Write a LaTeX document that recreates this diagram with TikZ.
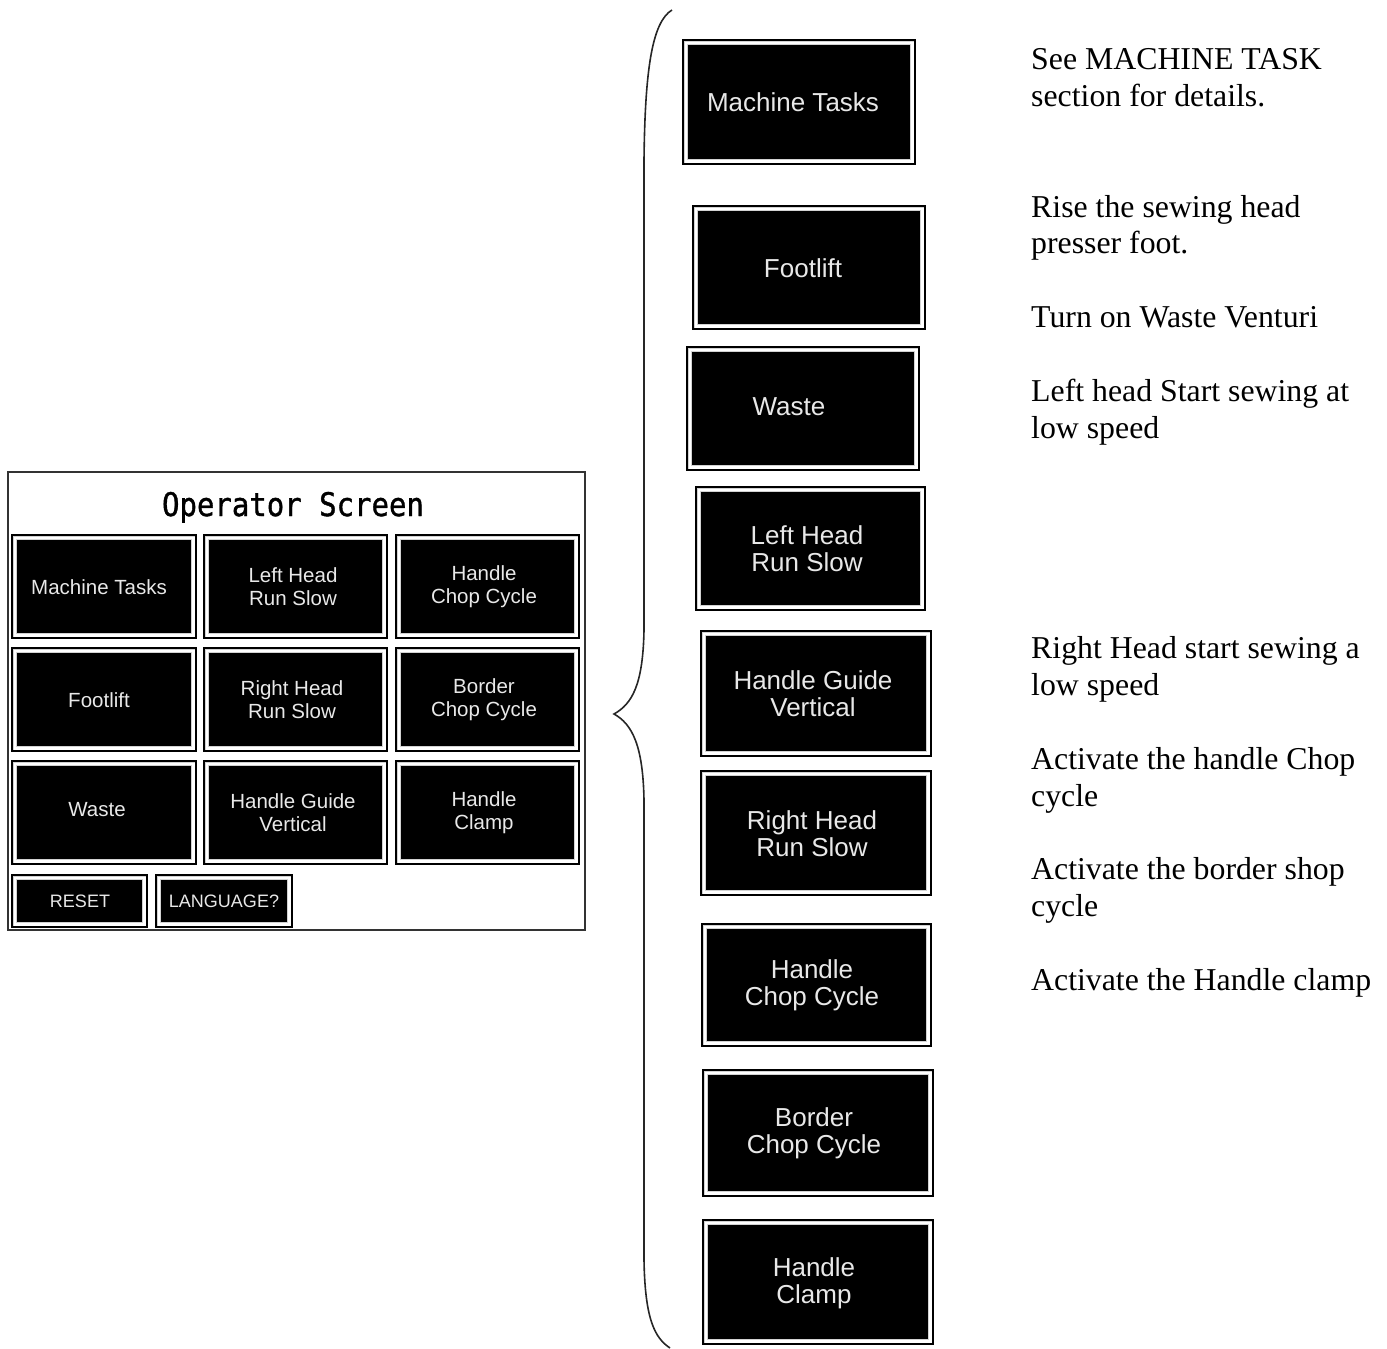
\documentclass[tikz,border=0pt]{standalone}
\usepackage{fontspec}
\setmainfont{Liberation Serif}
\newfontfamily\btnfont{Liberation Sans}
\newfontfamily\titlefont{DejaVu Sans Mono}[FakeBold=1.2]
\tikzset{
  btnbox/.style={draw=black, line width=1.6pt, fill=gray!35, inner sep=0pt, outer sep=0pt,
    path picture={
      \draw[white, line width=2.2pt] ([shift={(2.6pt,2.6pt)}]path picture bounding box.south west) rectangle ([shift={(-2.6pt,-2.6pt)}]path picture bounding box.north east);
      \fill[black] ([shift={(4.8pt,4.8pt)}]path picture bounding box.south west) rectangle ([shift={(-4.8pt,-4.8pt)}]path picture bounding box.north east);
    }},
  bigtxt/.style={font=\btnfont\fontsize{26}{27}\selectfont, text=gray!18, align=center, inner sep=0pt},
  smalltxt/.style={font=\btnfont\fontsize{20.5}{23}\selectfont, text=gray!18, align=center, inner sep=0pt},
  capstxt/.style={font=\btnfont\fontsize{18}{20}\selectfont, text=gray!18, align=center, inner sep=0pt},
  desc/.style={font=\fontsize{31.8}{37}\selectfont, anchor=base west, inner sep=0pt},
  frame/.style={draw=black!80, line width=1.3pt},
  brace/.style={draw=black!85, line width=1.6pt}
}
\newcommand{\btn}[9]{%
  \node[btnbox, minimum width={(#4-#2)*1pt}, minimum height={(#5-#3)*1pt}] (#1) at ({(#2+#4)/2},{(#3+#5)/2}) {};
  \node[#8] (#1t) at (#6,#7) {#9};%
}
\begin{document}
\begin{tikzpicture}[x=1pt,y=-1pt]
\useasboundingbox (0,0) rectangle (1387,1349);
% Operator screen
\node[frame, minimum width=577pt, minimum height=458pt, inner sep=0pt] (screen) at (296.5,701) {};
\node[font=\titlefont\fontsize{29}{30}\selectfont, anchor=base, inner sep=0pt, yscale=1.12] (title) at (293,516) {Operator Screen};
\btn{g11}{12}{535}{196}{638}{99}{587}{smalltxt}{Machine Tasks}
\btn{g12}{204}{535}{387}{638}{293}{587}{smalltxt}{Left Head\\Run Slow}
\btn{g13}{396}{535}{579}{638}{484}{587}{smalltxt}{Handle\\Chop Cycle}
\btn{g21}{12}{648}{196}{751}{99}{700}{smalltxt}{Footlift}
\btn{g22}{204}{648}{387}{751}{292}{700}{smalltxt}{Right Head\\Run Slow}
\btn{g23}{396}{648}{579}{751}{484}{700}{smalltxt}{Border\\Chop Cycle}
\btn{g31}{12}{761}{196}{864}{97}{810}{smalltxt}{Waste}
\btn{g32}{204}{761}{387}{864}{293}{813}{smalltxt}{Handle Guide\\Vertical}
\btn{g33}{396}{761}{579}{864}{484}{813}{smalltxt}{Handle\\Clamp}
\btn{reset}{12}{875}{147}{927}{80}{901}{capstxt}{RESET}
\btn{lang}{156}{875}{292}{927}{224}{901}{capstxt}{LANGUAGE?}
% Brace
\coordinate (btop) at (672,10);
\coordinate (btip) at (614,714);
\coordinate (bbot) at (670,1348);
\draw[brace] (btop) .. controls (652,22) and (645,70) .. (644,160) -- (644,630)
  .. controls (643,685) and (632,704) .. (btip)
  .. controls (632,724) and (643,745) .. (644,800) -- (644,1260)
  .. controls (645,1320) and (655,1338) .. (bbot);
% Right column buttons
\btn{r1}{683}{40}{915}{164}{793}{102}{bigtxt}{Machine Tasks}
\btn{r2}{693}{206}{925}{329}{803}{268}{bigtxt}{Footlift}
\btn{r3}{687}{347}{919}{470}{789}{407}{bigtxt}{Waste}
\btn{r4}{696}{487}{925}{610}{807}{549}{bigtxt}{Left Head\\Run Slow}
\btn{r5}{701}{631}{931}{756}{813}{694}{bigtxt}{Handle Guide\\Vertical}
\btn{r6}{701}{771}{931}{895}{812}{834}{bigtxt}{Right Head\\Run Slow}
\btn{r7}{702}{924}{931}{1046}{812}{985}{bigtxt}{Handle\\Chop Cycle}
\btn{r8}{703}{1070}{933}{1196}{814}{1133}{bigtxt}{Border\\Chop Cycle}
\btn{r9}{703}{1220}{933}{1344}{814}{1283}{bigtxt}{Handle\\Clamp}
% Descriptions
\node[desc] (d1a) at (1031,69) {See MACHINE TASK};
\node[desc] (d1b) at (1031,106) {section for details.};
\node[desc] (d2a) at (1031,217) {Rise the sewing head};
\node[desc] (d2b) at (1031,253) {presser foot.};
\node[desc] (d3) at (1031,327) {Turn on Waste Venturi};
\node[desc] (d4a) at (1031,401) {Left head Start sewing at};
\node[desc] (d4b) at (1031,438) {low speed};
\node[desc] (d5a) at (1031,658) {Right Head start sewing a};
\node[desc] (d5b) at (1031,695) {low speed};
\node[desc] (d6a) at (1031,769) {Activate the handle Chop};
\node[desc] (d6b) at (1031,806) {cycle};
\node[desc] (d7a) at (1031,879) {Activate the border shop};
\node[desc] (d7b) at (1031,916) {cycle};
\node[desc] (d8) at (1031,990) {Activate the Handle clamp};
\end{tikzpicture}
\end{document}
